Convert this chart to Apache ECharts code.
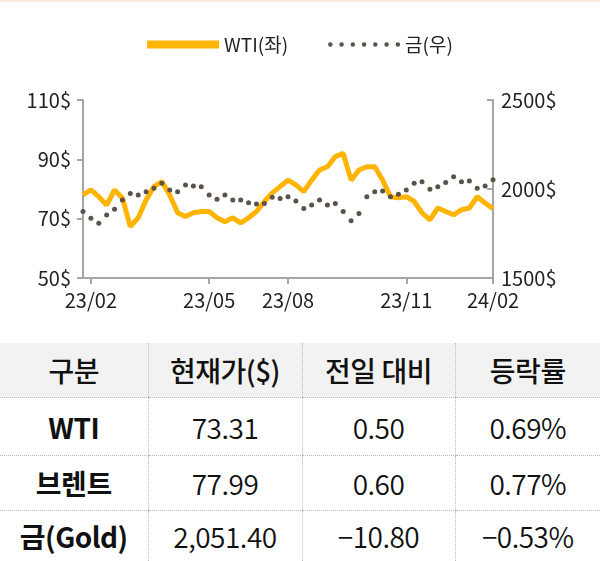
<!DOCTYPE html>
<html><head><meta charset="utf-8">
<script src="https://cdn.jsdelivr.net/npm/echarts@6/dist/echarts.min.js"></script>
<style>
body{margin:0;width:600px;height:561px;overflow:hidden;background:#fff;font-family:"Noto Sans CJK KR","Noto Sans",sans-serif;}
#top{position:absolute;left:0;top:0;width:600px;height:2px;background:#f5eadb}
#c{position:absolute;left:0;top:0;width:600px;height:330px}
table{position:absolute;left:0;top:343px;width:600px;border-collapse:collapse;table-layout:fixed;color:#111}
td{text-align:center;font-size:28px;font-weight:350;border-left:1px dotted #bbb;border-bottom:1px dotted #bbb;padding:0;line-height:1;letter-spacing:-0.5px}
td:first-child{border-left:none;font-weight:bold}
tr.h td{background:#f2f2f2;font-weight:500;height:54px}
</style></head><body>
<div id="top"></div>
<div id="c"></div>
<table>
<colgroup><col style="width:148px"><col style="width:154px"><col style="width:153px"><col style="width:145px"></colgroup>
<tr class="h"><td style="font-weight:500">구분</td><td>현재가($)</td><td>전일 대비</td><td>등락률</td></tr>
<tr style="height:58px"><td>WTI</td><td>73.31</td><td>0.50</td><td>0.69%</td></tr>
<tr style="height:55px"><td>브렌트</td><td>77.99</td><td>0.60</td><td>0.77%</td></tr>
<tr style="height:51px"><td>금(Gold)</td><td>2,051.40</td><td>−10.80</td><td>−0.53%</td></tr>
</table>
<script>
const tickLabels = {1:'23/02',16:'23/05',26:'23/08',41:'23/11',52:'24/02'};
const weeks = Array.from({length:53},(_, i)=>'w'+i);
const wti = [78.0,79.7,77.4,74.6,79.7,77,67.3,70.3,76.3,80.8,82.5,78,72,70.7,72,72.4,72.4,70.3,69,70.3,68.6,70.3,72.4,75.8,78.7,80.8,83,81.4,79.1,83,86.4,87.5,90.9,92,83,86.4,87.5,87.5,83,77.4,77,77.4,75.8,72,69.6,73.6,72.4,71.3,73,73.6,77.4,75.3,73.31];
const gold = [1873,1835,1807,1854,1886,1938,1975,1966,1985,2004,2032,1994,1985,2022,2017,2013,1966,1942,1966,1938,1938,1923,1916,1919,1953,1947,1957,1932,1891,1910,1938,1910,1919,1873,1822,1863,1957,1985,1989,1957,1970,1994,2032,2041,1998,2013,2036,2069,2041,2045,2004,2017,2051.4];
const ch = echarts.init(document.getElementById('c'));
const axisCol = '#a6a6a6';
const dots = 'path://M1,0a1,1 0 1,0 0.01,0zM6,0a1,1 0 1,0 0.01,0zM11,0a1,1 0 1,0 0.01,0zM16,0a1,1 0 1,0 0.01,0zM21,0a1,1 0 1,0 0.01,0zM26,0a1,1 0 1,0 0.01,0zM31,0a1,1 0 1,0 0.01,0z';
ch.setOption({
  animation:false,
  textStyle:{fontFamily:'"Noto Sans CJK KR","Noto Sans",sans-serif'},
  legend:{top:30,left:'center',itemGap:40,itemWidth:72,itemHeight:8,textStyle:{fontSize:19,color:'#222'},
    data:[{name:'WTI(좌)',icon:'rect',itemStyle:{color:'#ffb400'}},{name:'금(우)',icon:dots,itemStyle:{color:'#5b524a'}}]},
  grid:{left:83,right:107,top:100,bottom:52},
  xAxis:{type:'category',data:weeks,boundaryGap:false,
    axisLine:{lineStyle:{color:axisCol,width:2}},
    axisTick:{show:true,length:6,lineStyle:{color:axisCol,width:2},interval:(i)=>tickLabels[i]!==undefined},
    axisLabel:{interval:(i)=>tickLabels[i]!==undefined,formatter:(v,i)=>tickLabels[i]||'',fontSize:20,color:'#222',margin:12}},
  yAxis:[
    {type:'value',min:50,max:110,interval:20,splitLine:{show:false},
      axisLine:{show:true,lineStyle:{color:axisCol,width:2}},axisTick:{show:true,length:6,lineStyle:{color:axisCol,width:2}},
      axisLabel:{formatter:(v)=>v+'$',fontSize:20,color:'#222',margin:12}},
    {type:'value',min:1500,max:2500,interval:500,splitLine:{show:false},
      axisLine:{show:true,lineStyle:{color:axisCol,width:2}},axisTick:{show:true,length:6,inside:true,lineStyle:{color:axisCol,width:2}},
      axisLabel:{formatter:(v)=>v+'$',fontSize:20,color:'#222',margin:8}}
  ],
  series:[
    {name:'WTI(좌)',type:'line',data:wti,yAxisIndex:0,showSymbol:false,lineStyle:{color:'#ffb400',width:5},itemStyle:{color:'#ffb400'},z:2},
    {name:'금(우)',type:'line',data:gold,yAxisIndex:1,symbol:'circle',symbolSize:5,showSymbol:true,
      lineStyle:{width:0,opacity:0},itemStyle:{color:'#5b524a'},z:3}
  ]
});
</script>
</body></html>
